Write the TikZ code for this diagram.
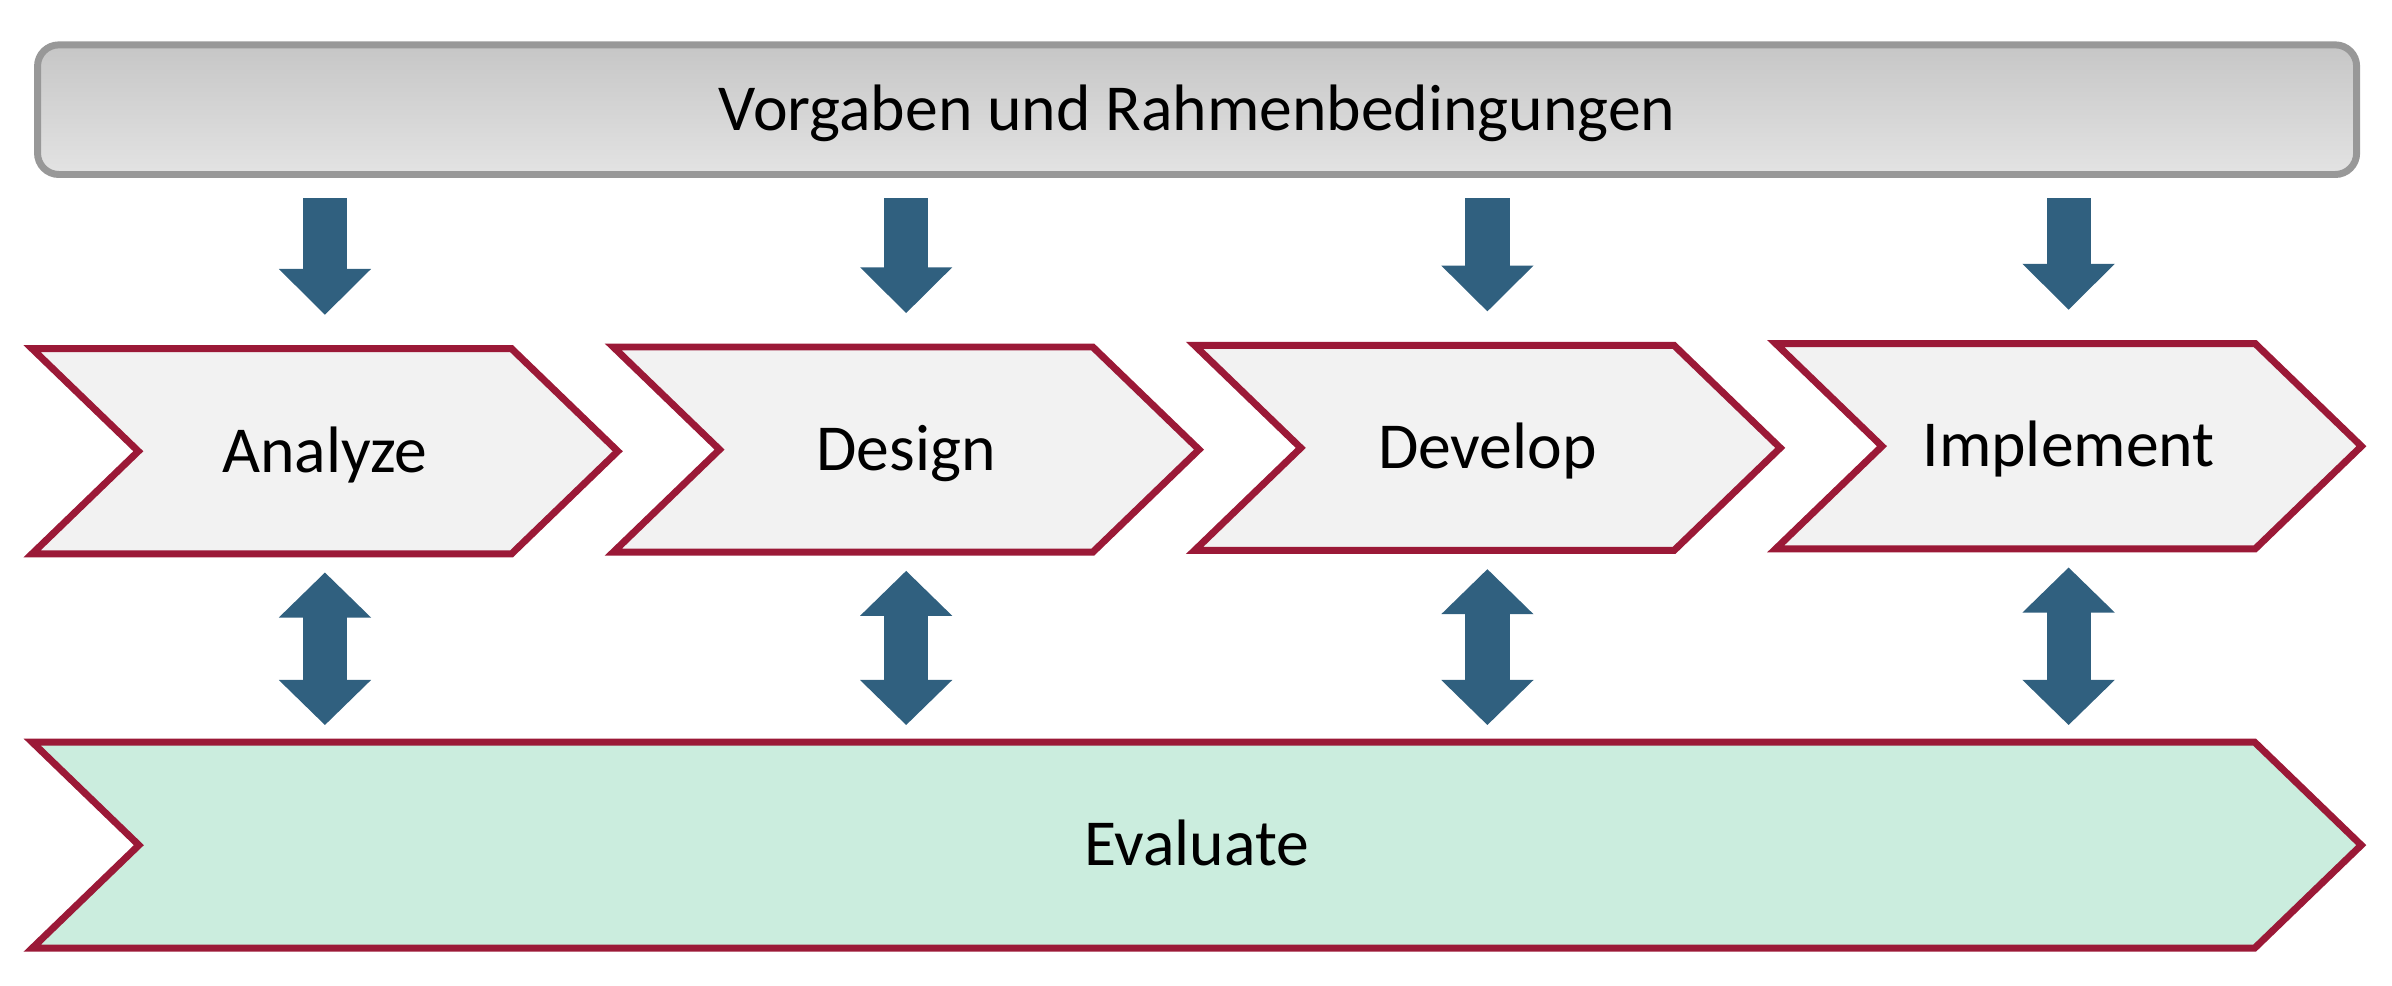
\documentclass[tikz,border=0pt]{standalone}
\usepackage{fontspec}
\setmainfont{Carlito}
\usetikzlibrary{shapes.symbols, arrows.meta}

\definecolor{phasenrot}{HTML}{9B1937}
\definecolor{phasengrau}{HTML}{F2F2F2}
\definecolor{evalgruen}{HTML}{CBEDDE}
\definecolor{pfeilblau}{HTML}{30607F}
\definecolor{rahmengrau}{HTML}{989898}
\definecolor{rahmenoben}{HTML}{C6C6C6}
\definecolor{rahmenunten}{HTML}{E3E3E3}

\begin{document}
\begin{tikzpicture}[
  x=0.02cm, y=-0.02cm,
  schrift/.style={font=\fontsize{24.5}{29}\selectfont, text height=15.5pt, text depth=0pt},
  rahmen/.style={schrift, draw=rahmengrau, line width=2.6pt, rounded corners=0.28cm,
    top color=rahmenoben, bottom color=rahmenunten, inner sep=0pt,
    minimum width=30.41cm, minimum height=1.70cm},
  phase/.style={schrift, signal, signal from=west, signal to=east, signal pointer angle=88,
    draw=phasenrot, fill=phasengrau, line width=2.6pt, inner sep=0pt,
    minimum width=7.68cm, minimum height=2.69cm},
  pfeil/.style={draw=pfeilblau, line width=0.58cm, line cap=rect,
    -{Triangle[length=0.6cm, width=1.21cm, line width=0pt]}},
  doppelpfeil/.style={draw=pfeilblau, line width=0.58cm, line cap=rect,
    {Triangle[length=0.59cm, width=1.21cm, line width=0pt]}-{Triangle[length=0.59cm, width=1.21cm, line width=0pt]}}
]
  \useasboundingbox (0,0) rectangle (1568,646);

  % Rahmen oben
  \node[rahmen] (vorg) at (784.7, 71.9) {Vorgaben und Rahmenbedingungen};

  % Phasen
  \node[phase] (ana) at (213, 295.8) {Analyze};
  \node[phase] (des) at (594, 294.7) {Design};
  \node[phase] (dev) at (975, 293.6) {Develop};
  \node[phase] (imp) at (1356, 292.5) {Implement};

  % Evaluation unten
  \node[phase, fill=evalgruen, minimum width=30.54cm, minimum height=2.70cm] (eval) at (784.5, 554) {Evaluate};

  % Pfeile
  \foreach \ph in {ana, des, dev, imp} {
    \draw[pfeil, shorten <=0.55cm, shorten >=0.4cm] (vorg.south -| \ph.center) -- (\ph.north);
    \draw[doppelpfeil, shorten <=0.2cm, shorten >=0.18cm] (\ph.south) -- (\ph.south |- eval.north);
  }

\end{tikzpicture}
\end{document}
